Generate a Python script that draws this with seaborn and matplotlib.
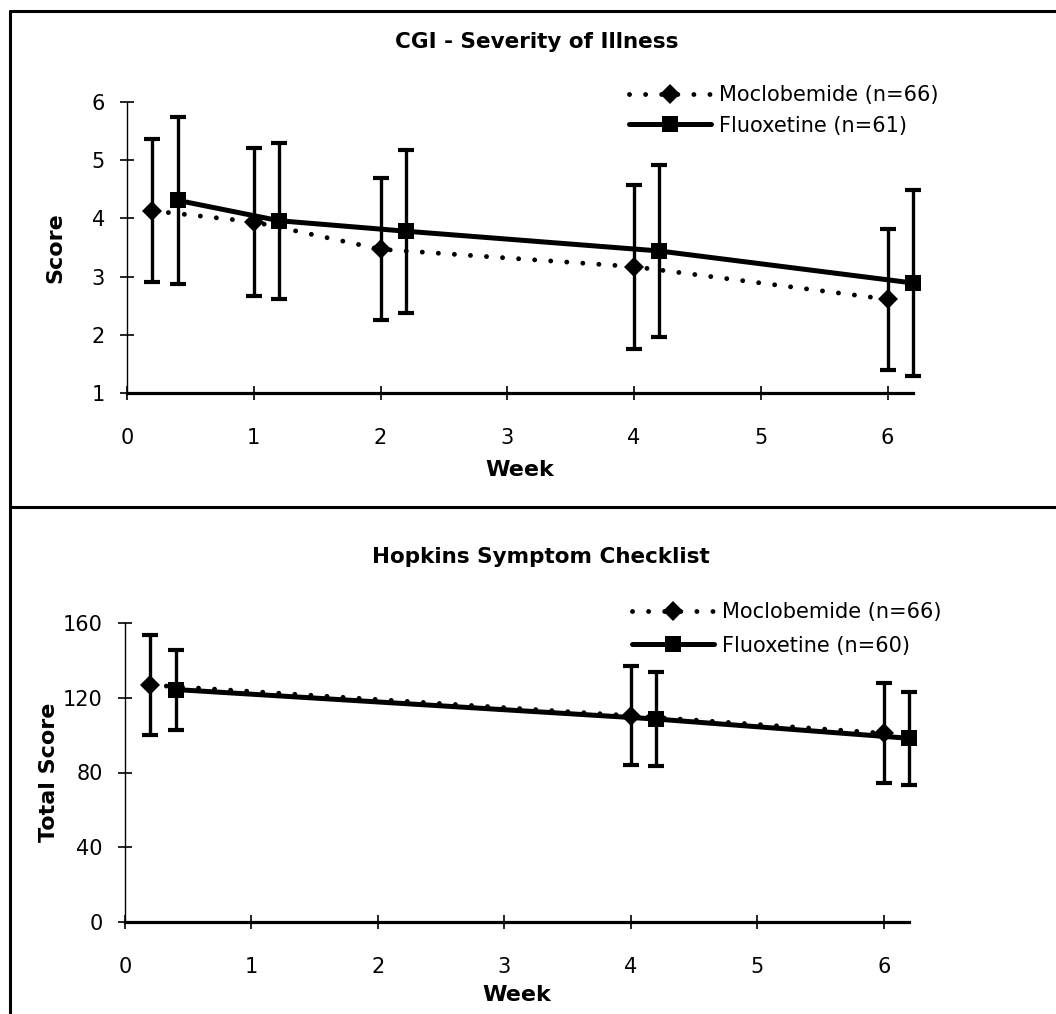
import matplotlib
matplotlib.use("Agg")
import matplotlib.pyplot as plt
import seaborn as sns
import pandas as pd
from matplotlib.lines import Line2D

# CGI - Severity of Illness: mean and SD at each visit (drugs offset on the week axis)
cgi_weeks_moc = [0.2, 1.0, 2.0, 4.0, 6.0]
cgi_weeks_flu = [0.4, 1.2, 2.2, 4.2, 6.2]
cgi_moc_mean = [4.13, 3.94, 3.47, 3.17, 2.61]
cgi_moc_sd = [1.23, 1.27, 1.22, 1.41, 1.21]
cgi_flu_mean = [4.31, 3.96, 3.78, 3.44, 2.89]
cgi_flu_sd = [1.44, 1.34, 1.40, 1.48, 1.59]

# Hopkins Symptom Checklist: total score
hsc_weeks_moc = [0.2, 4.0, 6.0]
hsc_weeks_flu = [0.4, 4.2, 6.2]
hsc_moc_mean = [126.8, 110.4, 101.0]
hsc_moc_sd = [26.8, 26.4, 26.8]
hsc_flu_mean = [124.4, 108.6, 98.3]
hsc_flu_sd = [21.4, 25.2, 24.8]

week_ticks = [0, 1, 2, 3, 4, 5, 6]

sns.set_style("ticks")
plt.rcParams["font.family"] = ["DejaVu Sans"]
for key in ["text.color", "axes.labelcolor", "axes.edgecolor",
            "xtick.color", "ytick.color"]:
    plt.rcParams[key] = "black"

fig = plt.figure(figsize=(10.56, 10.14), dpi=100)

dot_style = dict(linestyle=(0, (0.01, 3.3)), dash_capstyle="round")


def draw_panel(ax, wm, mm, sm, wf, mf, sf, lab_m, lab_f):
    # error bars first, then the lines with markers on top
    ax.errorbar(wm, mm, yerr=sm, fmt="none", ecolor="black", elinewidth=2.4,
                capsize=5.5, capthick=3, clip_on=False, zorder=2)
    ax.errorbar(wf, mf, yerr=sf, fmt="none", ecolor="black", elinewidth=2.4,
                capsize=5.5, capthick=3, clip_on=False, zorder=2)
    sns.lineplot(x=wm, y=mm, ax=ax, color="black", lw=3.5, marker="D",
                 markersize=10, markeredgewidth=0, errorbar=None,
                 label=lab_m, clip_on=False, zorder=4, **dot_style)
    sns.lineplot(x=wf, y=mf, ax=ax, color="black", lw=3.6, marker="s",
                 markersize=12, markeredgewidth=0, errorbar=None,
                 label=lab_f, clip_on=False, zorder=3)
    sns.despine(ax=ax)
    ax.spines["left"].set_linewidth(1.0)
    ax.spines["bottom"].set_linewidth(2.3)
    ax.spines["left"].set_color("black")
    ax.spines["bottom"].set_color("black")
    ax.set_xticks(week_ticks)
    ax.tick_params(direction="inout", length=10, width=1.2, colors="black",
                   labelsize=15)
    ax.tick_params(axis="x", pad=20)
    ax.tick_params(axis="y", pad=11)
    ax.set_xlabel("Week", fontsize=16, fontweight="bold", color="black")
    ax.xaxis.set_label_coords(0.5, -0.23)


# top panel
ax1 = fig.add_axes([127 / 1056, 1 - 393 / 1014, 786 / 1056, 291 / 1014])
draw_panel(ax1, cgi_weeks_moc, cgi_moc_mean, cgi_moc_sd,
           cgi_weeks_flu, cgi_flu_mean, cgi_flu_sd,
           "Moclobemide (n=66)", "Fluoxetine (n=61)")
ax1.set_xlim(0, 6.2)
ax1.set_ylim(1, 6)
ax1.set_yticks([1, 2, 3, 4, 5, 6])
ax1.set_ylabel("Score", fontsize=16, fontweight="bold", color="black")
ax1.yaxis.set_label_coords(-0.078, 0.5)
leg1 = ax1.legend(loc="center left", bbox_to_anchor=(629 / 1056, 1 - 110.5 / 1014),
                  bbox_transform=fig.transFigure, frameon=False, fontsize=15,
                  borderpad=0, borderaxespad=0, handlelength=3.95,
                  handletextpad=0.35, labelspacing=0.5, labelcolor="black")

# bottom panel
ax2 = fig.add_axes([125 / 1056, 1 - 922 / 1014, 784 / 1056, 299 / 1014])
draw_panel(ax2, hsc_weeks_moc, hsc_moc_mean, hsc_moc_sd,
           hsc_weeks_flu, hsc_flu_mean, hsc_flu_sd,
           "Moclobemide (n=66)", "Fluoxetine (n=60)")
ax2.set_xlim(0, 6.2)
ax2.set_ylim(0, 160)
ax2.set_yticks([0, 40, 80, 120, 160])
ax2.set_ylabel("Total Score", fontsize=16, fontweight="bold", color="black")
ax2.yaxis.set_label_coords(-0.084, 0.5)
ax2.xaxis.set_label_coords(0.5, -0.21)
ax2.legend(loc="center left", bbox_to_anchor=(632 / 1056, 1 - 629 / 1014),
           bbox_transform=fig.transFigure, frameon=False, fontsize=15,
           borderpad=0, borderaxespad=0, handlelength=3.95,
           handletextpad=0.35, labelspacing=0.65, labelcolor="black")

# panel titles
fig.text(537 / 1056, 1 - 42 / 1014, "CGI - Severity of Illness",
         ha="center", va="center", fontsize=15.5, fontweight="bold", color="black")
fig.text(541 / 1056, 1 - 557 / 1014, "Hopkins Symptom Checklist",
         ha="center", va="center", fontsize=15.5, fontweight="bold", color="black")

# frame lines around the panels
for xs, ys in [([10 / 1056, 1], [1 - 11 / 1014, 1 - 11 / 1014]),
               ([10 / 1056, 10 / 1056], [0, 1 - 11 / 1014]),
               ([10 / 1056, 1], [0.5, 0.5])]:
    fig.add_artist(Line2D(xs, ys, transform=fig.transFigure, color="black", lw=2.2))

fig.savefig("out.png", dpi=100)
